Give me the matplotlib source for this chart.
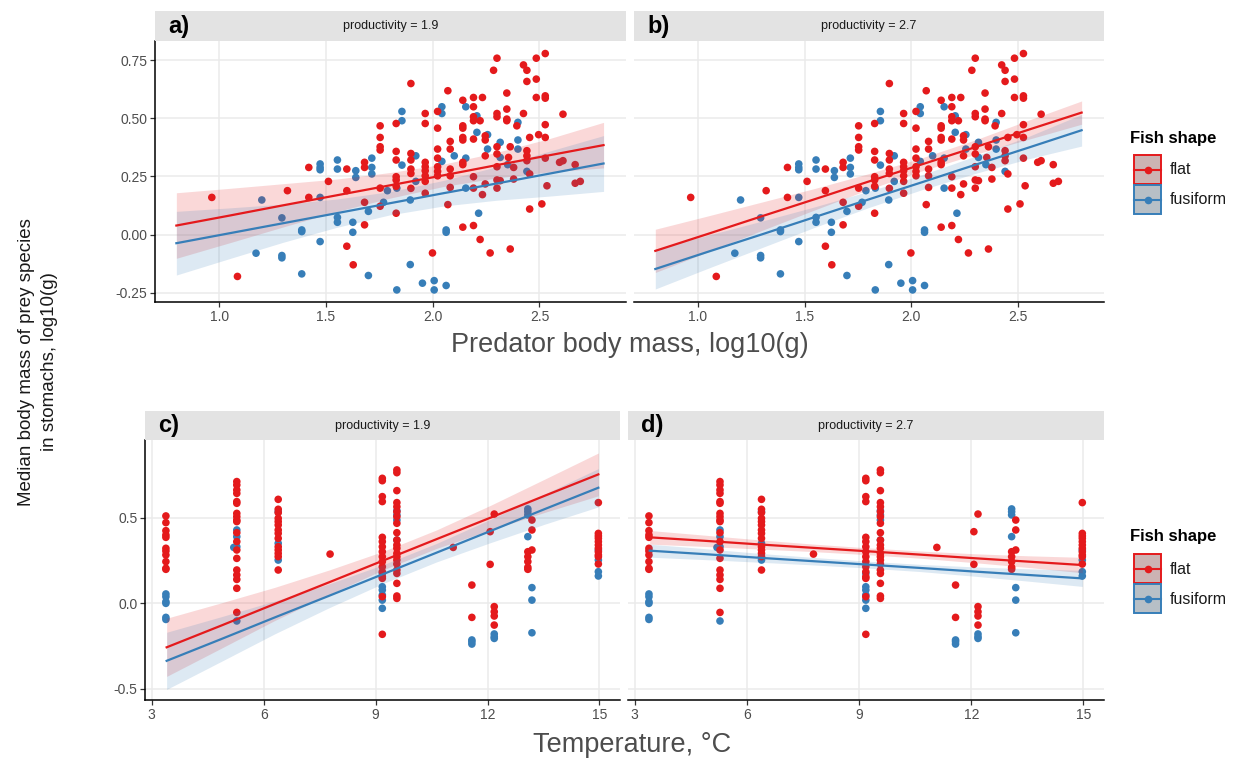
import matplotlib
matplotlib.use("Agg")
import matplotlib.pyplot as plt
from matplotlib.patches import Rectangle
from matplotlib.lines import Line2D

plt.rcParams['font.family'] = ['Liberation Sans', 'DejaVu Sans']

# ---------------- data: top row (predator body mass) ----------------
mass_flat_x = [0.966, 1.086, 1.320, 1.420, 1.420, 1.512, 1.598, 1.598, 1.598, 1.628, 1.681, 1.681, 1.681, 1.681,
               1.754, 1.754, 1.754, 1.754, 1.754, 1.754, 1.829, 1.829, 1.829, 1.829, 1.829, 1.829, 1.829,
               1.898, 1.898, 1.898, 1.898, 1.898, 1.898, 1.965, 1.965, 1.965, 1.965, 1.965, 1.965, 1.965, 1.965,
               1.999, 2.023, 2.023, 2.023, 2.023, 2.023, 2.023, 2.023, 2.071, 2.071, 2.082, 2.082, 2.082, 2.082, 2.082,
               2.141, 2.141, 2.141, 2.141, 2.141, 2.141, 2.141, 2.141, 2.191, 2.191, 2.191, 2.191, 2.191, 2.191, 2.191, 2.191,
               2.222, 2.233, 2.233, 2.222, 2.246, 2.246, 2.246, 2.246, 2.269, 2.285, 2.301, 2.301, 2.301, 2.301, 2.301,
               2.301, 2.301, 2.301, 2.316, 2.347, 2.347, 2.347, 2.347, 2.355, 2.363, 2.363, 2.379, 2.379, 2.394,
               2.425, 2.425, 2.441, 2.441, 2.441, 2.441, 2.441, 2.454, 2.454, 2.454, 2.485, 2.485, 2.485, 2.496, 2.511,
               2.527, 2.527, 2.527, 2.527, 2.527, 2.527, 2.535, 2.594, 2.610, 2.610, 2.667, 2.667, 2.691]
mass_flat_y = [0.160, -0.180, 0.189, 0.289, 0.160, 0.229, 0.282, 0.189, -0.050, -0.130, 0.042, 0.139, 0.289, 0.311,
               0.468, 0.418, 0.378, 0.364, 0.200, 0.122, 0.478, 0.358, 0.321, 0.249, 0.235, 0.208, 0.092,
               0.650, 0.349, 0.321, 0.282, 0.263, 0.199, 0.521, 0.478, 0.311, 0.292, 0.275, 0.253, 0.229, 0.178,
               -0.079, 0.530, 0.458, 0.368, 0.329, 0.292, 0.272, 0.253, 0.619, 0.129, 0.401, 0.368, 0.282, 0.253, 0.203,
               0.578, 0.468, 0.458, 0.418, 0.407, 0.311, 0.301, 0.032, 0.590, 0.550, 0.507, 0.490, 0.411, 0.249, 0.200, 0.039,
               0.490, 0.590, 0.172, -0.021, 0.425, 0.407, 0.339, 0.218, -0.079, 0.707, 0.759, 0.521, 0.507, 0.378, 0.347,
               0.292, 0.235, 0.200, 0.232, 0.609, 0.540, 0.497, 0.490, 0.332, 0.378, -0.062, 0.289, 0.239, 0.468,
               0.730, 0.521, 0.707, 0.659, 0.361, 0.339, 0.318, 0.418, 0.261, 0.110, 0.759, 0.669, 0.590, 0.430, 0.132,
               0.779, 0.597, 0.587, 0.473, 0.418, 0.329, 0.210, 0.311, 0.518, 0.318, 0.301, 0.221, 0.229]
mass_fusi_x = [1.200, 1.173, 1.294, 1.294, 1.294, 1.387, 1.387, 1.387, 1.473, 1.473, 1.473, 1.473, 1.473,
               1.554, 1.554, 1.554, 1.554, 1.626, 1.626, 1.640, 1.640, 1.699, 1.699, 1.715, 1.715, 1.715,
               1.770, 1.788, 1.832, 1.832, 1.856, 1.856, 1.856, 1.895, 1.895, 1.921, 1.921, 1.952, 2.007, 2.007,
               2.043, 2.043, 2.043, 2.063, 2.063, 2.063, 2.101, 2.155, 2.155, 2.155, 2.207, 2.207, 2.215,
               2.257, 2.257, 2.316, 2.316, 2.351, 2.399, 2.399, 2.399, 2.441]
mass_fusi_y = [0.149, -0.080, 0.072, -0.090, -0.100, 0.020, 0.013, -0.169, 0.304, 0.289, 0.279, 0.160, -0.030,
               0.321, 0.282, 0.074, 0.053, 0.053, 0.010, 0.275, 0.246, -0.176, 0.100, 0.329, 0.289, 0.261,
               0.139, 0.189, 0.200, -0.238, 0.530, 0.490, 0.299, 0.149, -0.129, 0.339, 0.229, -0.209, -0.198, -0.238,
               0.550, 0.521, 0.315, 0.020, 0.010, -0.219, 0.339, 0.550, 0.329, 0.200, 0.511, 0.440, 0.092,
               0.430, 0.368, 0.397, 0.332, 0.301, 0.483, 0.407, 0.368, 0.272]

# model predictions (fit, lower, upper) along predator mass
mass_grid = [0.8, 1.05, 1.3, 1.55, 1.8, 2.05, 2.3, 2.55, 2.8]
a_flat_fit = [0.039, 0.082, 0.126, 0.169, 0.212, 0.255, 0.299, 0.342, 0.385]
a_flat_lo = [-0.102, -0.035, 0.033, 0.099, 0.157, 0.207, 0.244, 0.270, 0.287]
a_flat_hi = [0.180, 0.199, 0.219, 0.239, 0.267, 0.303, 0.354, 0.414, 0.483]
a_fusi_fit = [-0.037, 0.006, 0.049, 0.092, 0.135, 0.178, 0.220, 0.263, 0.306]
a_fusi_lo = [-0.174, -0.103, -0.033, 0.031, 0.085, 0.123, 0.148, 0.166, 0.186]
a_fusi_hi = [0.100, 0.115, 0.131, 0.153, 0.185, 0.233, 0.292, 0.360, 0.426]
b_flat_fit = [-0.070, 0.004, 0.079, 0.153, 0.228, 0.302, 0.376, 0.451, 0.525]
b_flat_lo = [-0.163, -0.073, 0.018, 0.107, 0.194, 0.274, 0.345, 0.410, 0.475]
b_flat_hi = [0.023, 0.081, 0.140, 0.199, 0.262, 0.330, 0.407, 0.492, 0.575]
b_fusi_fit = [-0.148, -0.073, 0.001, 0.076, 0.151, 0.225, 0.300, 0.374, 0.449]
b_fusi_lo = [-0.234, -0.144, -0.056, 0.032, 0.116, 0.193, 0.263, 0.326, 0.381]
b_fusi_hi = [-0.062, -0.002, 0.058, 0.120, 0.186, 0.257, 0.337, 0.422, 0.517]

# ---------------- data: bottom row (temperature) ----------------
temp_flat_x = ([3.38] * 11 + [5.28] * 19 + [6.39] * 14 + [7.78] + [9.18] * 16 + [9.57] * 21 + [11.08]
               + [11.58] * 2 + [12.07] * 2 + [12.18] * 5 + [13.08] * 5 + [13.19] * 3 + [14.97] * 11)
temp_flat_y = [0.511, 0.472, 0.425, 0.400, 0.386, 0.322, 0.306, 0.283, 0.244, 0.205, 0.199,
               0.712, 0.692, 0.663, 0.643, 0.595, 0.585, 0.526, 0.507, 0.487, 0.478, 0.413, 0.361, 0.312, 0.263,
               0.195, 0.166, 0.140, 0.088, -0.053,
               0.608, 0.550, 0.530, 0.497, 0.478, 0.458, 0.429, 0.409, 0.380, 0.331, 0.312, 0.292, 0.273, 0.195,
               0.288,
               0.731, 0.717, 0.624, 0.595, 0.386, 0.361, 0.331, 0.302, 0.273, 0.244, 0.214, 0.185, 0.156, 0.146, 0.039, -0.181,
               0.780, 0.764, 0.659, 0.589, 0.565, 0.536, 0.507, 0.468, 0.413, 0.370, 0.341, 0.322, 0.292, 0.273, 0.253,
               0.230, 0.195, 0.175, 0.117, 0.043, 0.029,
               0.327,
               0.107, -0.082,
               0.419, 0.228,
               0.522, -0.019, -0.049, -0.074, -0.127,
               0.302, 0.273, 0.244, 0.211, 0.199,
               0.487, 0.429, 0.312,
               0.589, 0.409, 0.394, 0.380, 0.361, 0.341, 0.322, 0.302, 0.283, 0.273, 0.230]
temp_fusi_x = ([3.38] * 6 + [5.28] * 4 + [5.20] + [6.39] * 3 + [9.18] * 6 + [9.57] * 4 + [11.58] * 3
               + [12.18] * 3 + [13.08] * 4 + [13.19] * 3 + [14.97] * 4)
temp_fusi_y = [0.055, 0.039, 0.010, 0.000, -0.082, -0.094,
               0.429, 0.390, 0.331, -0.103, 0.327,
               0.536, 0.351, 0.253,
               0.175, 0.097, 0.078, 0.049, 0.019, -0.029,
               0.542, 0.517, 0.487, 0.370,
               -0.214, -0.224, -0.238,
               -0.179, -0.195, -0.205,
               0.552, 0.536, 0.517, 0.390,
               0.092, 0.019, -0.172,
               0.312, 0.253, 0.185, 0.160]

temp_grid = [3.40, 4.85, 6.29, 7.74, 9.19, 10.63, 12.08, 13.52, 14.97]
c_flat_fit = [-0.257, -0.131, -0.004, 0.122, 0.249, 0.375, 0.501, 0.628, 0.754]
c_flat_lo = [-0.427, -0.264, -0.101, 0.050, 0.195, 0.321, 0.429, 0.531, 0.629]
c_flat_hi = [-0.087, 0.002, 0.093, 0.194, 0.303, 0.429, 0.573, 0.725, 0.879]
c_fusi_fit = [-0.336, -0.210, -0.083, 0.043, 0.170, 0.296, 0.423, 0.550, 0.676]
c_fusi_lo = [-0.503, -0.341, -0.179, -0.027, 0.115, 0.242, 0.355, 0.462, 0.564]
c_fusi_hi = [-0.169, -0.079, 0.013, 0.113, 0.225, 0.350, 0.491, 0.638, 0.788]
d_flat_fit = [0.386, 0.366, 0.345, 0.325, 0.305, 0.285, 0.264, 0.244, 0.224]
d_flat_lo = [0.346, 0.333, 0.318, 0.303, 0.285, 0.264, 0.238, 0.210, 0.179]
d_flat_hi = [0.426, 0.399, 0.372, 0.347, 0.325, 0.306, 0.290, 0.278, 0.269]
d_fusi_fit = [0.308, 0.288, 0.267, 0.247, 0.227, 0.207, 0.186, 0.166, 0.146]
d_fusi_lo = [0.270, 0.256, 0.241, 0.225, 0.207, 0.186, 0.159, 0.130, 0.099]
d_fusi_hi = [0.346, 0.320, 0.293, 0.269, 0.247, 0.228, 0.213, 0.202, 0.193]

panel_labels = ["a)", "b)", "c)", "d)"]
strip_texts = ["productivity = 1.9", "productivity = 2.7", "productivity = 1.9", "productivity = 2.7"]
mass_ticks = [1.0, 1.5, 2.0, 2.5]
mass_ticklabels = ["1.0", "1.5", "2.0", "2.5"]
mass_yticks = [-0.25, 0.0, 0.25, 0.5, 0.75]
mass_yticklabels = ["-0.25", "0.00", "0.25", "0.50", "0.75"]
temp_ticks = [3, 6, 9, 12, 15]
temp_ticklabels = ["3", "6", "9", "12", "15"]
temp_yticks = [-0.5, 0.0, 0.5]
temp_yticklabels = ["-0.5", "0.0", "0.5"]
groups = ["flat", "fusiform"]

RED = "#E41A1C"
BLUE = "#377EB8"
STRIP = "#E3E3E3"
GRID = "#EBEBEB"
TICKC = "#4D4D4D"

W, H = 1244, 760
fig = plt.figure(figsize=(W / 100, H / 100), dpi=100)


def rect(l, t, r, b):
    return [l / W, 1 - b / H, (r - l) / W, (b - t) / H]


def make_panel(box, sbox, label, stext, xlim, ylim, xt, xtl, yt, ytl, show_y):
    ax = fig.add_axes(rect(*box))
    ax.set_xlim(*xlim)
    ax.set_ylim(*ylim)
    ax.set_xticks(xt)
    ax.set_xticklabels(xtl)
    ax.set_yticks(yt)
    ax.set_yticklabels(ytl if show_y else [])
    ax.grid(True, color=GRID, lw=1.1, zorder=0)
    ax.set_axisbelow(True)
    for s in ["top", "right"]:
        ax.spines[s].set_visible(False)
    ax.spines["bottom"].set_color("black")
    ax.spines["bottom"].set_linewidth(1.1)
    if show_y:
        ax.spines["left"].set_color("black")
        ax.spines["left"].set_linewidth(1.1)
        ax.tick_params(axis="y", length=3.5, width=0.9, color="#333333", labelsize=10, labelcolor=TICKC, pad=2)
    else:
        ax.spines["left"].set_visible(False)
        ax.tick_params(axis="y", length=0)
    ax.tick_params(axis="x", length=3.5, width=0.9, color="#333333", labelsize=10, labelcolor=TICKC, pad=2)
    sax = fig.add_axes(rect(*sbox))
    sax.set_facecolor(STRIP)
    sax.set_xticks([])
    sax.set_yticks([])
    for s in sax.spines.values():
        s.set_visible(False)
    sax.text(0.5, 0.5, stext, ha="center", va="center", fontsize=9,
             family=["Liberation Sans Narrow", "Liberation Sans", "DejaVu Sans"], color="#1A1A1A")
    sax.text(0.028, 0.5, label, ha="left", va="center", fontsize=17, fontweight="bold", color="black")
    return ax


def draw(ax, xf, yf, xb, yb, grid, ff, fl, fh, bf, bl, bh):
    ax.scatter(xb, yb, s=30, color=BLUE, edgecolors="none", zorder=2)
    ax.scatter(xf, yf, s=30, color=RED, edgecolors="none", zorder=2)
    ax.fill_between(grid, fl, fh, color=RED, alpha=0.17, lw=0, zorder=3)
    ax.fill_between(grid, bl, bh, color=BLUE, alpha=0.17, lw=0, zorder=3)
    ax.plot(grid, ff, color=RED, lw=1.6, zorder=4)
    ax.plot(grid, bf, color=BLUE, lw=1.6, zorder=4)


top_xlim = (0.7, 2.905)
top_ylim = (-0.29, 0.833)
bot_xlim = (2.82, 15.55)
bot_ylim = (-0.565, 0.955)

ax_a = make_panel((155, 41, 626, 302), (155, 11, 626, 41), panel_labels[0], strip_texts[0],
                  top_xlim, top_ylim, mass_ticks, mass_ticklabels, mass_yticks, mass_yticklabels, True)
ax_b = make_panel((634, 41, 1104, 302), (634, 11, 1104, 41), panel_labels[1], strip_texts[1],
                  top_xlim, top_ylim, mass_ticks, mass_ticklabels, mass_yticks, mass_yticklabels, False)
ax_c = make_panel((145, 440, 620, 700), (145, 411, 620, 440), panel_labels[2], strip_texts[2],
                  bot_xlim, bot_ylim, temp_ticks, temp_ticklabels, temp_yticks, temp_yticklabels, True)
ax_d = make_panel((628, 440, 1104, 700), (628, 411, 1104, 440), panel_labels[3], strip_texts[3],
                  bot_xlim, bot_ylim, temp_ticks, temp_ticklabels, temp_yticks, temp_yticklabels, False)

draw(ax_a, mass_flat_x, mass_flat_y, mass_fusi_x, mass_fusi_y, mass_grid,
     a_flat_fit, a_flat_lo, a_flat_hi, a_fusi_fit, a_fusi_lo, a_fusi_hi)
draw(ax_b, mass_flat_x, mass_flat_y, mass_fusi_x, mass_fusi_y, mass_grid,
     b_flat_fit, b_flat_lo, b_flat_hi, b_fusi_fit, b_fusi_lo, b_fusi_hi)
draw(ax_c, temp_flat_x, temp_flat_y, temp_fusi_x, temp_fusi_y, temp_grid,
     c_flat_fit, c_flat_lo, c_flat_hi, c_fusi_fit, c_fusi_lo, c_fusi_hi)
draw(ax_d, temp_flat_x, temp_flat_y, temp_fusi_x, temp_fusi_y, temp_grid,
     d_flat_fit, d_flat_lo, d_flat_hi, d_fusi_fit, d_fusi_lo, d_fusi_hi)

# axis titles
fig.text(630 / W, 1 - 345 / H, "Predator body mass, log10(g)", ha="center", va="center",
         fontsize=19.5, color="#4D4D4D")
fig.text(632 / W, 1 - 745 / H, "Temperature, \u00b0C", ha="center", va="center",
         fontsize=19.5, color="#4D4D4D")
fig.text(38 / W, 1 - 362 / H, "Median body mass of prey species\nin stomachs, log10(g)", ha="center",
         va="center", rotation=90, fontsize=13.5, color="#1A1A1A", linespacing=1.45)

# legends
lax = fig.add_axes([0, 0, 1, 1], facecolor="none")
lax.set_xlim(0, W)
lax.set_ylim(H, 0)
lax.axis("off")
for ty in (138, 537):
    lax.text(1130, ty, "Fish shape", ha="left", va="center", fontsize=12, fontweight="bold", color="black")
    for i, (g, c) in enumerate(zip(groups, [RED, BLUE])):
        y0 = ty + 17 + i * 30
        lax.add_patch(Rectangle((1134, y0), 27, 29, facecolor="#C9C9C9", edgecolor=c, lw=1.4, alpha=1))
        lax.add_patch(Rectangle((1134, y0), 27, 29, facecolor=c, edgecolor="none", alpha=0.12))
        lax.add_line(Line2D([1134, 1161], [y0 + 14.5, y0 + 14.5], color=c, lw=1.5))
        lax.plot([1147.5], [y0 + 14.5], "o", color=c, ms=5.5, mec="none")
        lax.text(1170, y0 + 15, g, ha="left", va="center", fontsize=11.5, color="#1A1A1A")

fig.savefig("out.png", dpi=100)
